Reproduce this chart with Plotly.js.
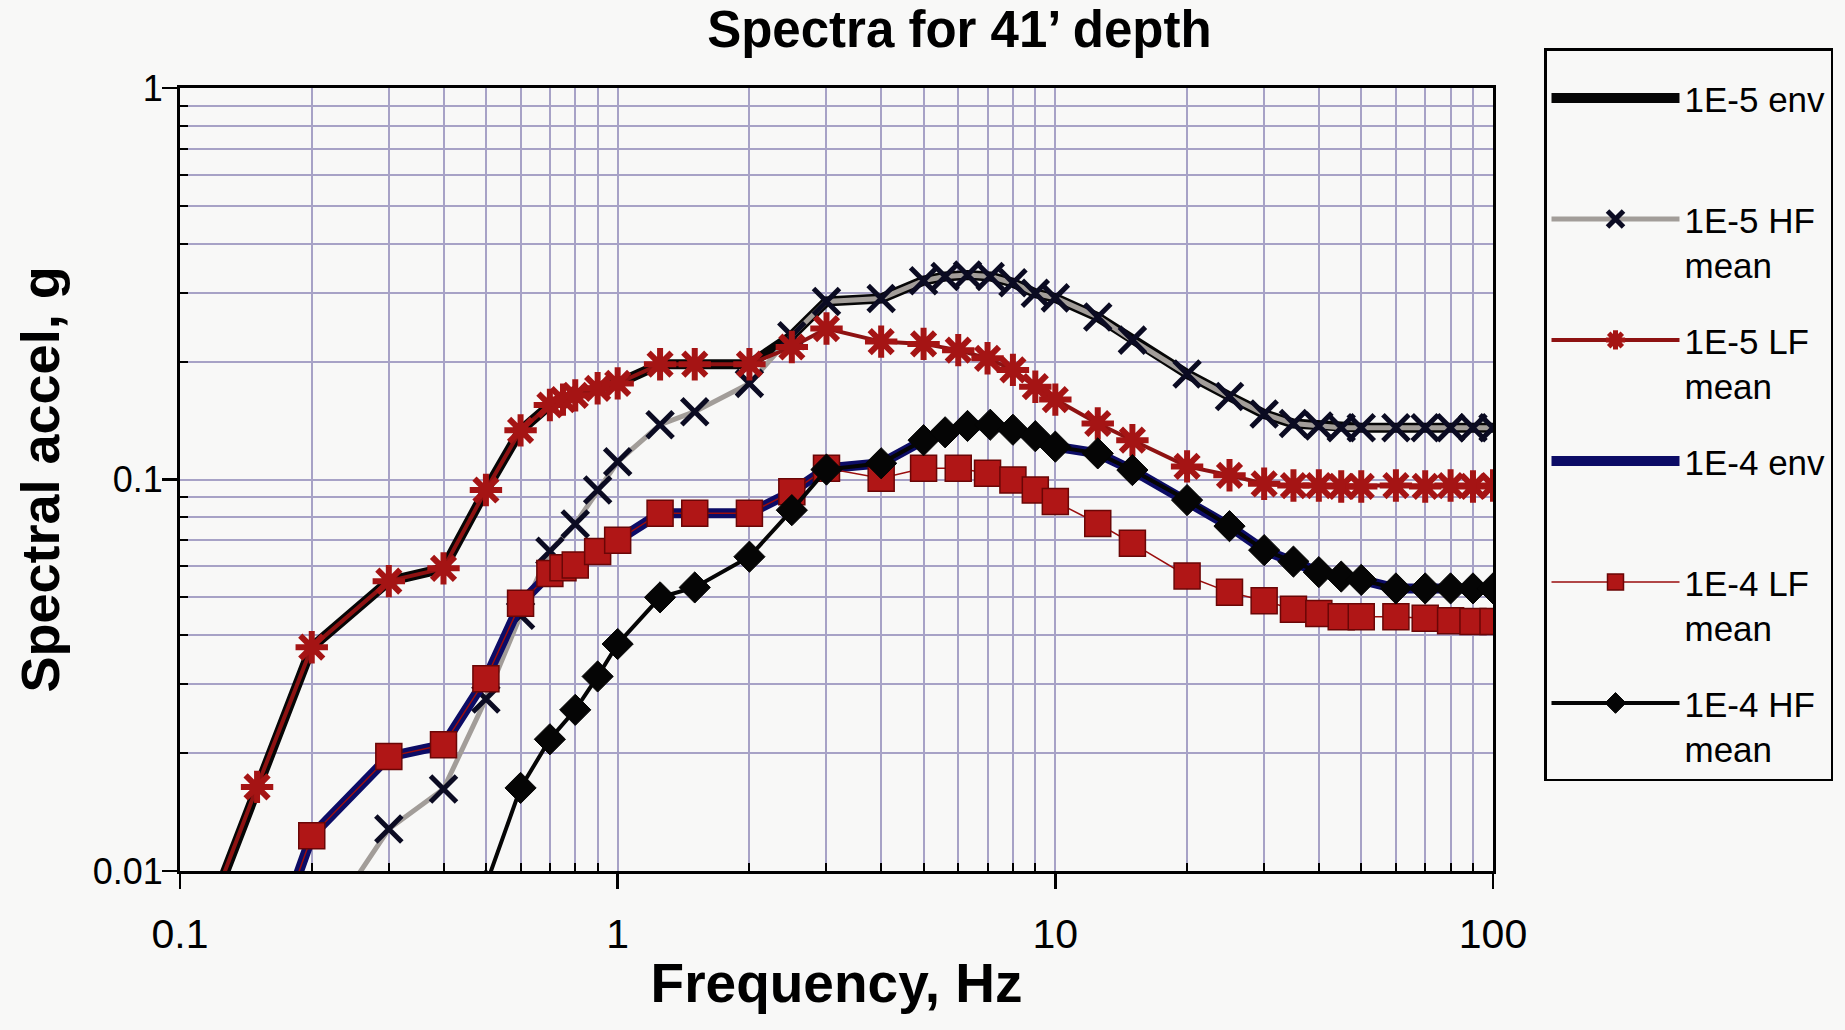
<!DOCTYPE html>
<html>
<head>
<meta charset="utf-8">
<script src="https://cdn.plot.ly/plotly-3.0.1.min.js"></script>
<style>
  html, body { margin: 0; padding: 0; background: #f8f8f7; }
  #chart { width: 1845px; height: 1030px; }
</style>
</head>
<body>
<div id="chart"></div>
<script>
// ---- Data ----
const freqEnv5 = [0.1,0.15,0.2,0.3,0.4,0.5,0.6,0.7,0.75,0.8,0.9,1,1.25,1.5,2,2.5,3,4,5,5.6,6.3,7.1,8,9,10,12.5,15,20,25,30,35,40,45,50,60,70,80,90,100];
const env5 = [0.005,0.0164,0.0373,0.055,0.0593,0.094,0.1335,0.155,0.160,0.164,0.171,0.176,0.197,0.197,0.197,0.233,0.285,0.29,0.322,0.33,0.333,0.33,0.318,0.299,0.291,0.26,0.227,0.186,0.163,0.147,0.139,0.137,0.1355,0.1355,0.1355,0.1355,0.1355,0.1355,0.1355];

const freqHF5 = [0.2,0.3,0.4,0.5,0.6,0.7,0.8,0.9,1,1.25,1.5,2,2.5,3,4,5,5.6,6.3,7.1,8,9,10,12.5,15,20,25,30,35,40,45,50,60,70,80,90,100];
const hf5 = [0.0065,0.0128,0.0162,0.0275,0.045,0.0656,0.077,0.094,0.111,0.138,0.149,0.176,0.233,0.285,0.29,0.322,0.33,0.333,0.33,0.318,0.299,0.291,0.26,0.227,0.186,0.163,0.147,0.139,0.137,0.1355,0.1355,0.1355,0.1355,0.1355,0.1355,0.1355];

const freqLF5 = [0.1,0.15,0.2,0.3,0.4,0.5,0.6,0.7,0.75,0.8,0.9,1,1.25,1.5,2,2.5,3,4,5,6,7,8,9,10,12.5,15,20,25,30,35,40,45,50,60,70,80,90,100];
const lf5 = [0.005,0.0164,0.0373,0.055,0.0593,0.094,0.1335,0.155,0.160,0.164,0.171,0.176,0.197,0.197,0.197,0.218,0.243,0.225,0.222,0.214,0.204,0.1905,0.1726,0.160,0.139,0.126,0.108,0.1025,0.0975,0.0965,0.0965,0.096,0.096,0.0965,0.096,0.0965,0.096,0.0965];

const freqEnv4 = [0.15,0.2,0.3,0.4,0.5,0.6,0.7,0.75,0.8,0.9,1,1.25,1.5,2,2.5,3,4,5,5.6,6.3,7.1,8,9,10,12.5,15,20,25,30,35,40,45,50,60,70,80,90,100];
const env4 = [0.005,0.0123,0.0196,0.021,0.031,0.0483,0.0575,0.0595,0.0605,0.0655,0.070,0.082,0.082,0.082,0.093,0.1068,0.110,0.126,0.132,0.137,0.138,0.134,0.129,0.1213,0.1166,0.1057,0.0886,0.076,0.066,0.0617,0.058,0.0565,0.0554,0.0527,0.0527,0.0527,0.0527,0.0527];

const freqLF4 = [0.15,0.2,0.3,0.4,0.5,0.6,0.7,0.75,0.8,0.9,1,1.25,1.5,2,2.5,3,4,5,6,7,8,9,10,12.5,15,20,25,30,35,40,45,50,60,70,80,90,100];
const lf4 = [0.005,0.0123,0.0196,0.021,0.031,0.0483,0.0575,0.0595,0.0605,0.0655,0.070,0.082,0.082,0.082,0.093,0.1068,0.1007,0.1068,0.1068,0.1038,0.0997,0.094,0.0878,0.0772,0.0687,0.0567,0.0515,0.049,0.0466,0.0455,0.0446,0.0446,0.0446,0.0442,0.0436,0.0434,0.0434];

const freqHF4 = [0.5,0.6,0.7,0.8,0.9,1,1.25,1.5,2,2.5,3,4,5,5.6,6.3,7.1,8,9,10,12.5,15,20,25,30,35,40,45,50,60,70,80,90,100];
const hf4 = [0.0092,0.0163,0.0217,0.0258,0.0314,0.038,0.050,0.053,0.0635,0.0835,0.106,0.110,0.126,0.132,0.137,0.138,0.134,0.129,0.1213,0.1166,0.1057,0.0886,0.076,0.066,0.0617,0.058,0.0565,0.0554,0.0527,0.0527,0.0527,0.0527,0.0527];

const seriesNames = ['1E-5 env<br>\u00a0', '1E-5 HF<br>mean', '1E-5 LF<br>mean', '1E-4 env<br>\u00a0', '1E-4 LF<br>mean', '1E-4 HF<br>mean'];

const xTickVals = [0.1, 1, 10, 100];
const xTickText = ['0.1', '1', '10', '100'];
const yTickVals = [0.01, 0.1, 1];
const yTickText = ['0.01', '0.1', '1'];
const xMinorVals = [0.2,0.3,0.4,0.5,0.6,0.7,0.8,0.9,2,3,4,5,6,7,8,9,20,30,40,50,60,70,80,90];
const yMinorVals = [0.02,0.03,0.04,0.05,0.06,0.07,0.08,0.09,0.2,0.3,0.4,0.5,0.6,0.7,0.8,0.9];

// ---- Chart ----
const FONT = 'Arial, "Liberation Sans", Helvetica, sans-serif';
const GRID = '#a7a2c6';

const traces = [
  { x: freqEnv5, y: env5, name: seriesNames[0], mode: 'lines',
    line: { color: '#060606', width: 10 }, legendgroup: 'g1' },
  { x: freqHF5, y: hf5, name: seriesNames[1], mode: 'lines+markers',
    line: { color: '#a29d99', width: 5 },
    marker: { symbol: 'x-thin', size: 26, line: { color: '#0b0b22', width: 5 } }, legendgroup: 'g2' },
  { x: freqLF5, y: lf5, name: seriesNames[2], mode: 'lines+markers',
    line: { color: '#8e1212', width: 4 },
    marker: { symbol: 'asterisk', size: 27, line: { color: '#a51414', width: 6 } }, legendgroup: 'g3' },
  { x: freqEnv4, y: env4, name: seriesNames[3], mode: 'lines',
    line: { color: '#0c0c66', width: 10 }, legendgroup: 'g4' },
  { x: freqLF4, y: lf4, name: seriesNames[4], mode: 'lines+markers',
    line: { color: '#9a0d0d', width: 1.5 },
    marker: { symbol: 'square', size: 26, color: '#b01616', line: { color: '#6a0606', width: 1.5 } }, legendgroup: 'g5' },
  { x: freqHF4, y: hf4, name: seriesNames[5], mode: 'lines+markers',
    line: { color: '#050505', width: 4 },
    marker: { symbol: 'diamond', size: 24, color: '#050505', line: { color: '#050505', width: 1 } }, legendgroup: 'g6' }
];

const layout = {
  width: 1845, height: 1030,
  paper_bgcolor: '#f8f8f7', plot_bgcolor: '#f8f8f7',
  margin: { l: 180, r: 352, t: 88, b: 159, pad: 0 },
  font: { family: FONT, color: '#000' },
  title: { text: 'Spectra for 41\u2019 depth', x: 0.52, xanchor: 'center', xref: 'container',
           y: 0.972, yanchor: 'middle', yref: 'container',
           font: { size: 51, weight: 700, family: FONT, color: '#000' } },
  showlegend: true,
  legend: {
    x: (1544 - 180) / 1313, xanchor: 'left', xref: 'paper',
    y: (871 - 48) / 783, yanchor: 'top', yref: 'paper',
    maxheight: 950,
    bgcolor: '#f8f8f7', bordercolor: '#000', borderwidth: 2.5,
    font: { size: 35, family: FONT, color: '#000' },
    title: { text: ' ', font: { size: 14 } },
    itemwidth: 128, traceorder: 'grouped', tracegroupgap: 27, valign: 'top',
    itemclick: false
  },
  xaxis: {
    type: 'log', range: [-1, 2],
    tickmode: 'array', tickvals: xTickVals, ticktext: xTickText,
    ticks: 'outside', ticklen: 15, tickwidth: 2.5, tickcolor: '#000',
    tickfont: { size: 41, family: FONT, color: '#000' },
    ticklabelstandoff: 10,
    showgrid: true, gridcolor: GRID, gridwidth: 2,
    minor: { tickmode: 'array', tickvals: xMinorVals, ticks: 'inside', ticklen: 8, tickwidth: 2,
             tickcolor: '#000', showgrid: true, gridcolor: GRID, gridwidth: 2 },
    showline: true, linecolor: '#000', linewidth: 3, mirror: true,
    zeroline: false,
    title: { text: 'Frequency, Hz', standoff: 8, font: { size: 55, weight: 700, family: FONT, color: '#000' } }
  },
  yaxis: {
    type: 'log', range: [-2, 0],
    tickmode: 'array', tickvals: yTickVals, ticktext: yTickText,
    ticks: 'outside', ticklen: 15, tickwidth: 2.5, tickcolor: '#000',
    tickfont: { size: 36, family: FONT, color: '#000' },
    ticklabelstandoff: -8,
    showgrid: true, gridcolor: GRID, gridwidth: 2,
    minor: { tickmode: 'array', tickvals: yMinorVals, ticks: 'inside', ticklen: 8, tickwidth: 2,
             tickcolor: '#000', showgrid: true, gridcolor: GRID, gridwidth: 2 },
    showline: true, linecolor: '#000', linewidth: 3, mirror: true,
    zeroline: false,
    title: { text: 'Spectral accel, g', standoff: 16, font: { size: 54, weight: 700, family: FONT, color: '#000' } }
  }
};

Plotly.newPlot('chart', traces, layout, { staticPlot: true, displayModeBar: false });
</script>
</body>
</html>
